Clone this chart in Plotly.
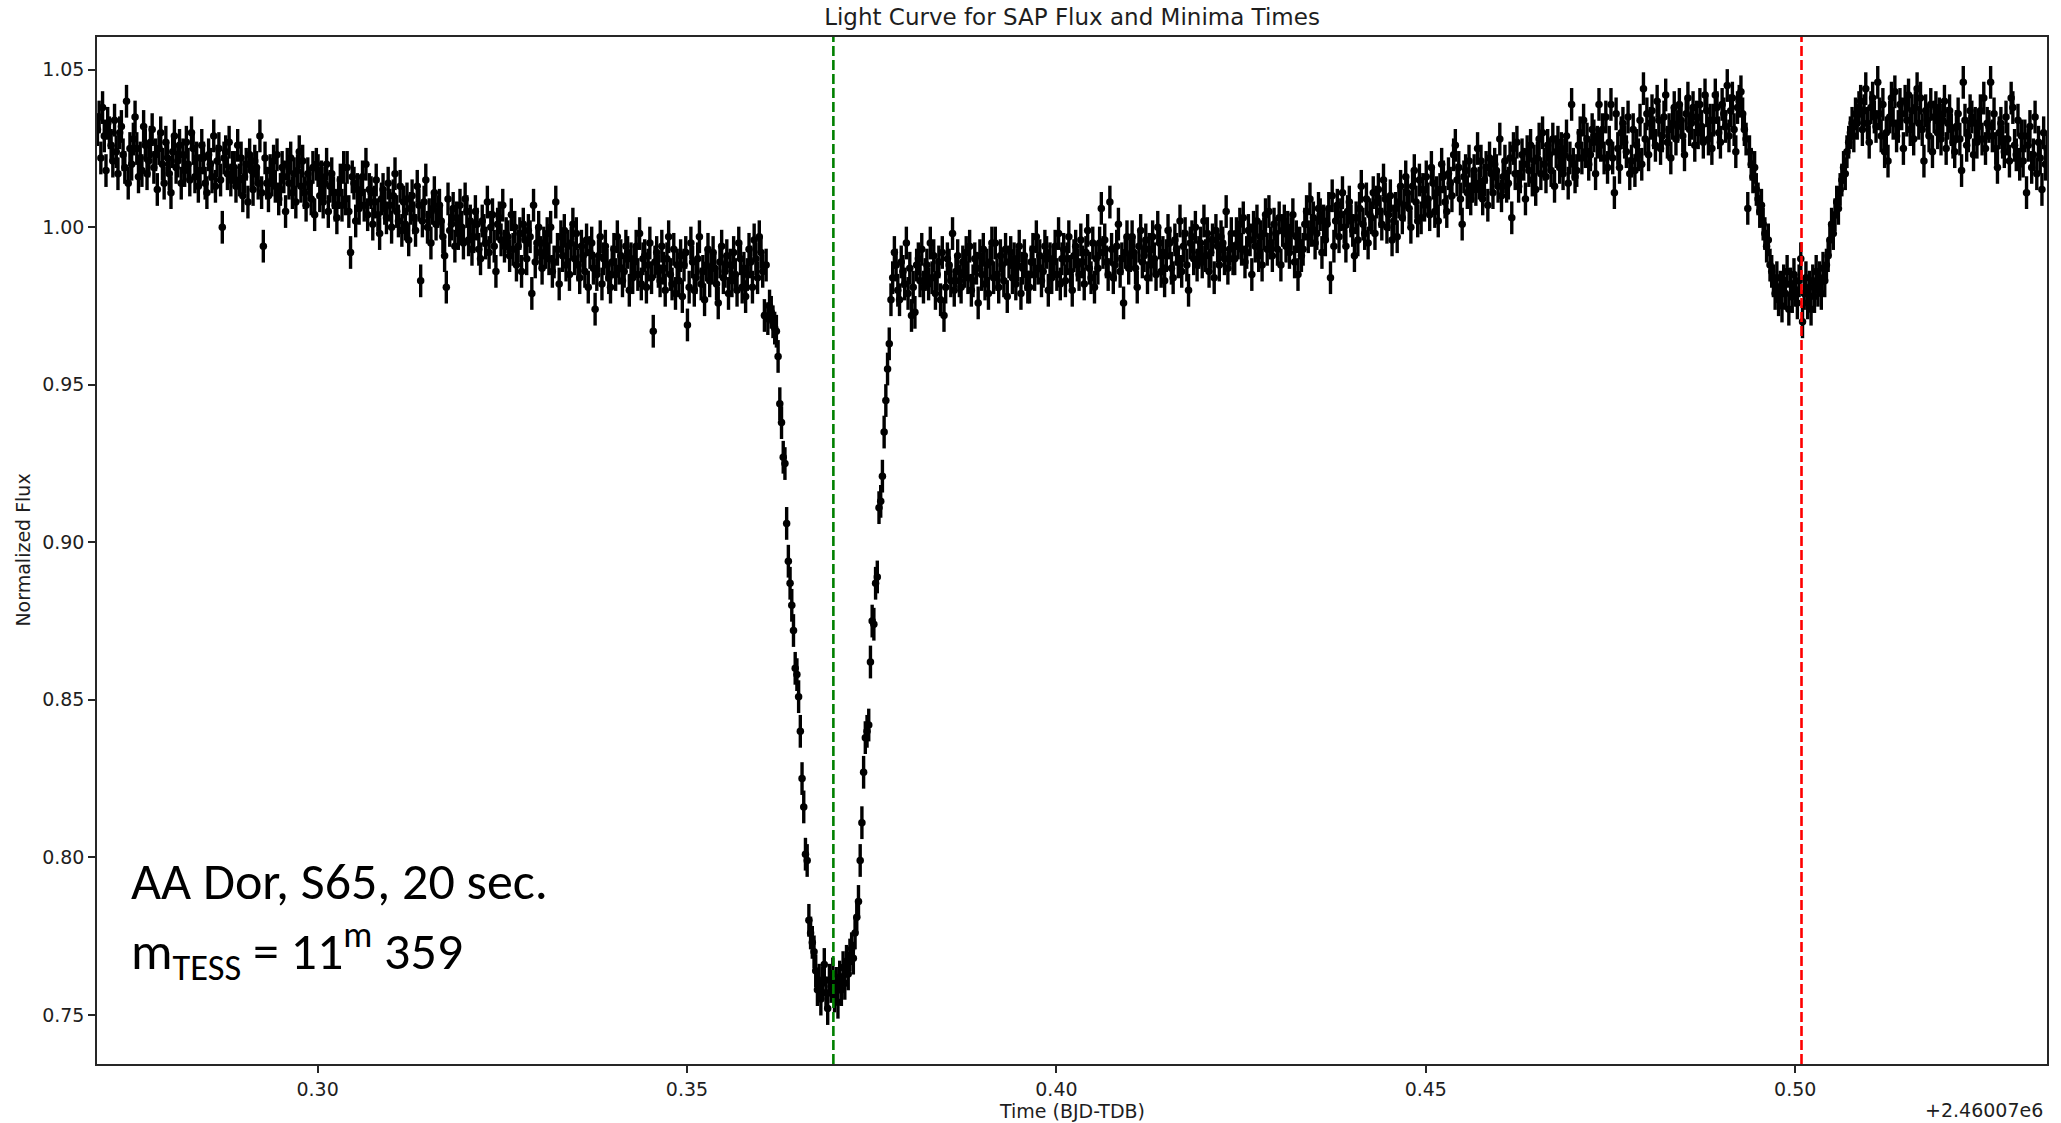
import numpy as np
import plotly.graph_objects as go

# TESS SAP light curve of AA Dor, sector 65, 20-second cadence.
# Times are BJD-TDB minus bjd_offset; fluxes are normalized flux x 1000.
bjd_offset = 2460070.0
start_time = 0.2702
cadence_days = 20.0 / 86400.0
flux_err = 0.0052

flux_pre = [
    1031, 1035, 1022, 1038, 1029, 1018, 1033, 1030, 1026, 1021, 1034, 1024, 1017, 1030, 1032, 1023, 1019, 1040, 1014, 1025,
    1020, 1028, 1035, 1025, 1016, 1022, 1018, 1032, 1026, 1017, 1021, 1027, 1031, 1019, 1023, 1012, 1025, 1030, 1020, 1014,
    1027, 1022, 1017, 1011, 1024, 1029, 1019, 1021, 1026, 1014, 1023, 1018, 1027, 1020, 1015, 1030, 1025, 1016, 1022, 1013,
    1018, 1026, 1022, 1014, 1011, 1023, 1020, 1016, 1029, 1013, 1021, 1025, 1015, 1000, 1022, 1024, 1017, 1027, 1015, 1019,
    1019, 1013, 1026, 1015, 1022, 1010, 1016, 1020, 1008, 1023, 1018, 1012, 1021, 1019, 1014, 1029, 1011, 994, 1022, 1014,
    1010, 1018, 1015, 1021, 1013, 1023, 1009, 1012, 1019, 1016, 1005, 1020, 1014, 1022, 1011, 1017, 1008, 1018, 1024, 1013,
    1021, 1011, 1007, 1017, 1014, 1009, 1019, 1004, 1020, 1018, 1010, 1016, 1008, 1014, 1020, 1005, 1013, 1017, 1011, 1007,
    1003, 1011, 1015, 1007, 1019, 1009, 1019, 1005, 992, 1016, 1014, 1002, 1012, 1006, 1011, 1016, 1007, 1020, 1004, 1012,
    1011, 1001, 1008, 1015, 1004, 998, 1009, 1012, 1006, 1003, 1014, 1007, 1000, 1010, 1017, 1005, 1002, 1013, 999, 1008,
    1001, 1009, 996, 1006, 1010, 1003, 999, 1013, 1007, 983, 1002, 1008, 1015, 1000, 1004, 995, 1006, 1011, 1001, 1005,
    1007, 1002, 997, 991, 981, 1009, 999, 1001, 1006, 994, 1003, 998, 1007, 1000, 995, 1009, 1005, 996, 1002, 993,
    997, 1005, 1001, 993, 990, 1002, 999, 995, 1008, 992, 1000, 1004, 994, 986, 1001, 1003, 996, 1007, 994, 998,
    997, 991, 1004, 993, 1000, 988, 994, 998, 986, 1001, 996, 990, 999, 997, 979, 1007, 989, 995, 1000, 992,
    987, 995, 992, 998, 990, 1000, 986, 989, 1008, 993, 982, 997, 991, 999, 988, 994, 985, 995, 1001, 990,
    998, 988, 984, 994, 991, 986, 996, 981, 992, 995, 987, 974, 985, 991, 997, 982, 990, 994, 988, 984,
    981, 989, 993, 985, 997, 987, 991, 983, 986, 994, 992, 980, 990, 984, 989, 994, 985, 998, 982, 990,
    991, 981, 988, 995, 984, 967, 989, 992, 986, 983, 994, 987, 980, 990, 997, 985, 982, 993, 979, 988,
    983, 991, 978, 988, 992, 969, 981, 995, 989, 980, 984, 990, 997, 982, 986, 977, 988, 993, 983, 987,
    992, 987, 982, 976, 989, 994, 984, 986, 991, 979, 988, 983, 992, 985, 980, 995, 990, 981, 987, 978,
    985, 993, 989, 981, 996, 990, 984, 997, 992, 986, 972, 988, 971,
]

# primary eclipse: ingress, flat bottom, egress
flux_primary = [
    975, 973, 970, 968, 967, 959, 944, 938, 927, 925, 906, 894, 887, 880, 872, 860, 858, 851, 840, 825,
    816, 801, 799, 780, 776, 773, 770,
    764, 758, 761, 755, 760, 766, 757, 752, 761, 759, 763, 756, 760, 754, 762, 758, 765, 760, 767,
    763, 769, 771, 768, 776, 781, 786, 799, 811, 827, 838, 840, 842, 862, 875, 874, 887, 889, 911, 913,
    921, 935, 945, 955, 963, 977,
]

flux_mid = [
    984, 992, 988, 980, 977, 989, 986, 982, 995, 979, 987, 972, 981, 973, 988, 990, 983, 993, 981, 985,
    988, 982, 995, 984, 991, 979, 985, 989, 977, 992, 972, 981, 990, 988, 983, 998, 980, 986, 991, 983,
    981, 989, 986, 992, 984, 994, 980, 983, 990, 987, 976, 991, 985, 993, 982, 988, 979, 989, 995, 984,
    995, 985, 981, 991, 988, 983, 993, 978, 989, 992, 984, 990, 982, 988, 994, 979, 987, 991, 985, 981,
    981, 989, 993, 985, 997, 987, 991, 983, 986, 994, 992, 980, 990, 984, 989, 994, 985, 998, 982, 990,
    993, 983, 990, 997, 986, 980, 991, 994, 988, 985, 996, 989, 982, 992, 999, 987, 984, 995, 981, 990,
    987, 995, 1006, 992, 996, 989, 985, 1008, 993, 984, 988, 994, 1001, 986, 990, 976, 992, 997, 987, 991,
    997, 992, 987, 981, 994, 999, 989, 991, 996, 984, 993, 988, 997, 990, 985, 1000, 995, 986, 992, 983,
    991, 999, 995, 987, 984, 996, 993, 989, 1002, 986, 994, 998, 988, 980, 995, 997, 990, 1000, 988, 992,
    995, 989, 1002, 991, 998, 986, 992, 996, 984, 999, 994, 988, 997, 995, 990, 1005, 987, 993, 998, 990,
    990, 998, 995, 1001, 993, 1003, 989, 992, 999, 996, 985, 1000, 994, 1002, 991, 997, 988, 998, 1004, 993,
    1005, 995, 991, 1001, 998, 993, 1003, 988, 999, 1002, 994, 1000, 992, 998, 1004, 989, 997, 985, 995, 991,
    993, 1001, 1005, 997, 1009, 999, 1003, 995, 998, 1006, 1004, 992, 1002, 996, 1001, 1006, 984, 1010, 994, 1002,
    1007, 997, 1004, 1011, 1000, 994, 1005, 1008, 1002, 999, 991, 1003, 996, 1006, 1013, 1001, 998, 1009, 995, 1004,
    1003, 1011, 998, 1008, 1012, 1005, 1001, 1015, 1009, 1000, 1004, 1010, 996, 1002, 1006, 997, 1008, 1013, 1003, 1007,
    1016, 1011, 1006, 1000, 1013, 1018, 1008, 1002, 1015, 1003, 1012, 1007, 1016, 1009, 1004, 1019, 1014, 1005, 1011, 1002,
    1012, 1020, 1016, 1008, 1005, 1017, 1014, 1010, 1023, 1026, 1015, 1019, 1009, 1001, 1016, 1018, 1011, 1021, 1009, 1013,
    1018, 1012, 1025, 1014, 1021, 1009, 1015, 1019, 1007, 1022, 1017, 1011, 1020, 1018, 1013, 1028, 1010, 1016, 1021, 1013,
    1014, 1022, 1003, 1025, 1017, 1027, 1013, 1016, 1023, 1020, 1009, 1024, 1018, 1026, 1015, 1021, 1012, 1022, 1028, 1017,
    1030, 1020, 1016, 1026, 1023, 1018, 1028, 1013, 1024, 1027, 1019, 1025, 1017, 1023, 1029, 1014, 1022, 1039, 1020, 1016,
    1018, 1026, 1030, 1022, 1034, 1024, 1028, 1020, 1023, 1031, 1029, 1017, 1027, 1039, 1026, 1031, 1022, 1035, 1019, 1027,
    1039, 1022, 1011, 1036, 1025, 1019, 1030, 1033, 1027, 1024, 1035, 1017, 1021, 1031, 1018, 1026, 1023, 1034, 1020, 1044,
    1028, 1036, 1023, 1033, 1037, 1030, 1026, 1040, 1034, 1025, 1029, 1035, 1042, 1027, 1031, 1022, 1033, 1038, 1028, 1032,
    1039, 1034, 1029, 1023, 1036, 1041, 1031, 1033, 1038, 1026, 1035, 1030, 1039, 1032, 1027, 1042, 1037, 1028, 1034, 1025,
    1034, 1042, 1038, 1030, 1027, 1039, 1036, 1032, 1045, 1029, 1037, 1041, 1031, 1024, 1038, 1040, 1043,
]

# secondary eclipse
flux_secondary = [
    1036, 1031, 1028, 1006, 1024, 1020, 1016, 1019, 1012, 1009, 1005, 1007, 1001, 998, 994, 996, 988,
    986, 983, 979, 984, 977, 981, 975, 983, 979, 986, 974, 982, 978, 985, 980, 976,
    983, 990, 970, 979, 984, 976, 981, 974, 983, 978, 986, 980, 984, 979, 987, 983,
    988, 991, 996, 1001, 998, 1004, 1008, 1006, 1012, 1015, 1019, 1017, 1024, 1027, 1030, 1033, 1029, 1036, 1033, 1038,
]

flux_post = [
    1040, 1031, 1037, 1044, 1033, 1027, 1038, 1041, 1035, 1032, 1046, 1036, 1029, 1039, 1024,
    1030, 1021, 1035, 1041, 1033, 1043, 1029, 1032, 1039, 1036, 1025, 1040, 1034, 1042, 1031, 1037, 1028, 1038, 1044, 1033,
    1041, 1031, 1021, 1037, 1034, 1029, 1039, 1024, 1035, 1038, 1030, 1036, 1028, 1034, 1040, 1025, 1033, 1037, 1031, 1027,
    1024, 1032, 1036, 1028, 1018, 1046, 1034, 1026, 1029, 1037, 1035, 1023, 1033, 1027, 1032, 1037, 1028, 1041, 1025, 1033,
    1032, 1046, 1029, 1036, 1025, 1019, 1030, 1033, 1027, 1024, 1035, 1028, 1021, 1041, 1038, 1026, 1023, 1034, 1020, 1029,
    1021, 1029, 1011, 1026, 1032, 1019, 1023, 1035, 1017, 1027, 1022, 1012, 1030, 1020, 1025,
]

# times of minima (BJD-TDB minus offset)
minima_times = [0.36981, 0.50085]
minima_colors = ["#008000", "#ff0000"]

x_ticks = [0.30, 0.35, 0.40, 0.45, 0.50]
y_ticks = [0.75, 0.80, 0.85, 0.90, 0.95, 1.00, 1.05]
x_range = [0.27014, 0.53408]
y_range = [0.7344, 1.0604]

flux = np.array(flux_pre + flux_primary + flux_mid + flux_secondary + flux_post) / 1000.0
time = start_time + cadence_days * np.arange(flux.size)

TEXT = "#1e1e1e"
FONT = "DejaVu Sans"

fig = go.Figure()
fig.add_trace(go.Scatter(
    x=time, y=flux, mode="markers",
    marker=dict(color="black", size=7.5, line=dict(width=0)),
    error_y=dict(type="constant", value=flux_err, color="black", thickness=3.4, width=0),
    showlegend=False,
))

for tm, col in zip(minima_times, minima_colors):
    fig.add_shape(type="line", xref="x", yref="paper", x0=tm, x1=tm, y0=0, y1=1,
                  line=dict(color=col, width=2.6, dash="10px,4px"))

axis_common = dict(
    showgrid=False, zeroline=False, showline=True, mirror=True,
    linecolor="#262626", linewidth=1.5, ticks="outside", ticklen=7, tickwidth=1.5,
    tickcolor="#262626", tickfont=dict(family=FONT, size=19, color=TEXT),
)
fig.update_xaxes(range=x_range, tickvals=x_ticks, ticktext=[f"{v:.2f}" for v in x_ticks], **axis_common)
fig.update_yaxes(range=y_range, tickvals=y_ticks, ticktext=[f"{v:.2f}" for v in y_ticks], **axis_common)

annotations = [
    dict(text="Time (BJD-TDB)", xref="paper", yref="paper", x=0.5, y=-0.0458,
         xanchor="center", yanchor="middle", showarrow=False,
         font=dict(family=FONT, size=19, color=TEXT)),
    dict(text="Normalized Flux", xref="paper", yref="paper", x=-0.0384, y=0.5, textangle=-90,
         xanchor="center", yanchor="middle", showarrow=False,
         font=dict(family=FONT, size=19, color=TEXT)),
    dict(text="+2.46007e6", xref="paper", yref="paper", x=0.999, y=-0.0448,
         xanchor="right", yanchor="middle", showarrow=False,
         font=dict(family=FONT, size=19, color=TEXT)),
    dict(text="AA Dor, S65, 20 sec.", xref="paper", yref="paper", x=0.0165, y=0.178,
         xanchor="left", yanchor="middle", showarrow=False,
         font=dict(family="Carlito, Lato, sans-serif", size=52, color="black")),
    dict(text="m<sub>TESS</sub> = 11<sup>m</sup> 359", xref="paper", yref="paper", x=0.0165, y=0.110,
         xanchor="left", yanchor="middle", showarrow=False,
         font=dict(family="Carlito, Lato, sans-serif", size=52, color="black")),
]

fig.update_layout(
    width=2061, height=1123,
    margin=dict(l=97, r=12, t=37, b=59),
    paper_bgcolor="white", plot_bgcolor="white",
    title=dict(text="Light Curve for SAP Flux and Minima Times", x=0.5, xref="paper",
               y=1 - 17 / 1123, yref="container", xanchor="center", yanchor="middle",
               font=dict(family=FONT, size=23, color=TEXT)),
    annotations=annotations,
)

fig.write_html("out.html")
